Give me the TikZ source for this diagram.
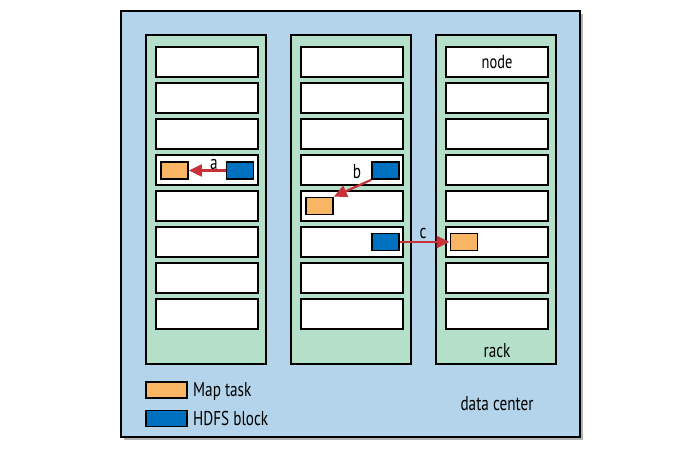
\documentclass[tikz,border=0pt]{standalone}
\usepackage{fontspec}
\setmainfont{PT Sans}[FakeStretch=0.76]
\usetikzlibrary{arrows.meta}

\definecolor{dcblue}{RGB}{179,212,234}
\definecolor{rackgreen}{RGB}{180,223,200}
\definecolor{taskorange}{RGB}{249,181,100}
\definecolor{blockblue}{RGB}{0,112,192}
\definecolor{arrowred}{RGB}{200,48,58}

\tikzset{
    rackbox/.style={draw=black, fill=rackgreen, line width=2.2pt, minimum width=120pt, minimum height=329pt, inner sep=0pt},
    nodebox/.style={draw=black, fill=white, line width=2.2pt, minimum width=102pt, minimum height=30pt, inner sep=0pt, font=\fontsize{19}{19}\selectfont},
    maptask/.style={draw=black, fill=taskorange, line width=1.8pt, minimum width=27pt, minimum height=17pt, inner sep=0pt},
    hdfsblock/.style={maptask, fill=blockblue},
    lbl/.style={font=\fontsize{20}{20}\selectfont, inner sep=0pt},
    moveto/.style={draw=arrowred, line width=2.2pt, -{Triangle[length=13pt,width=12pt]}}
}

\begin{document}
\begin{tikzpicture}[x=1pt, y=-1pt]
        \useasboundingbox (0,0) rectangle (698,454);

        \fill[black!30] (124,14) rectangle (583,440);
        \draw[fill=dcblue, line width=2.2pt] (121,11) rectangle (580,437);

        \foreach \r/\x in {1/206,2/351,3/496} {
            \node[rackbox] (rack\r) at (\x,199.5) {};
            \foreach \i in {1,...,8}
                \node[nodebox] (r\r n\i) at (\x+1,26+36*\i) {};
        }

        \node[nodebox] at (r3n1) {node};
        \node[lbl, anchor=base] (racklabel) at (497,357) {rack};
        \node[lbl, anchor=base] (dclabel) at (497,410) {data center};

        \node[maptask] (m1) at (174.5,170.5) {};
        \node[hdfsblock] (h1) at (240,170.5) {};
        \node[hdfsblock] (h2) at (385.5,170.5) {};
        \node[maptask] (m2) at (319.5,206) {};
        \node[hdfsblock] (h3) at (385.5,242) {};
        \node[maptask] (m3) at (464,242) {};

        \draw[moveto] (h1) -- (m1);
        \draw[moveto] (h2.south west) -- (m2.north east);
        \draw[moveto] (h3) -- (m3);

        \node[lbl, anchor=base] (la) at (214,170) {a};
        \node[lbl, anchor=base] (lb) at (357,179) {b};
        \node[lbl, anchor=base] (lc) at (423,239) {c};

        \node[maptask, minimum width=41pt, minimum height=16pt] (legtask) at (166.5,390) {};
        \node[hdfsblock, minimum width=41pt, minimum height=16pt] (legblock) at (166.5,418.5) {};
        \node[lbl, anchor=base west] (legtasktext) at (193,396) {Map task};
        \node[lbl, anchor=base west] (legblocktext) at (193,425) {HDFS block};

        \end{tikzpicture}
\end{document}
